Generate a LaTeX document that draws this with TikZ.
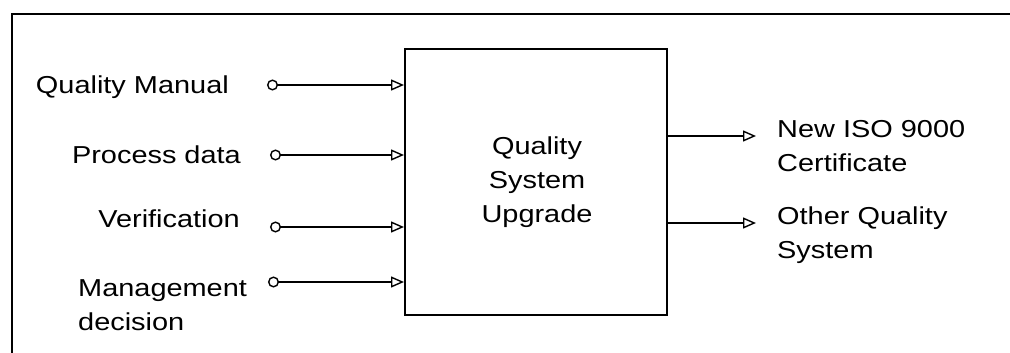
\documentclass[tikz,border=0pt]{standalone}
\usepackage{fontspec}
\setmainfont{Liberation Sans}[FakeStretch=1.18]
\usetikzlibrary{arrows.meta}

\tikzset{
    lbl/.style={inner sep=0pt, font=\fontsize{24.5}{34}\selectfont},
    flow/.style={line width=1.4pt, {Circle[open, length=11pt, width=11pt]}-{Triangle[open, length=13pt, width=11pt]}},
    outflow/.style={line width=1.4pt, -{Triangle[open, length=13pt, width=11pt]}}
}

\begin{document}
\begin{tikzpicture}[x=1pt, y=-1pt]
        \useasboundingbox (0,0) rectangle (1010,353);
        % ==== FRAME ====
        \draw[line width=1.3pt] (1010,14) -- (12,14) -- (12,353);
        % ==== CENTRAL BOX ====
        \node[draw, line width=2pt, minimum width=262pt, minimum height=266pt, inner sep=0pt] (sys) at (536,182) {};
        \node[lbl, align=center] (syslbl) at (537,182) {Quality\\System\\Upgrade};
        % ==== INPUTS ====
        \node[lbl, anchor=east] (manual) at (229,87) {Quality Manual};
        \node[lbl, anchor=east] (procdata) at (241,155) {Process data};
        \node[lbl, anchor=east] (verif) at (240,219) {Verification};
        \node[lbl, anchor=west, align=left] (mgmt) at (78,305) {Management\\decision};
        \coordinate (in1) at (267,85);
        \coordinate (in2) at (270,155);
        \coordinate (in3) at (270,227);
        \coordinate (in4) at (268,282);
        \foreach \i in {1,...,4}
            \draw[flow] (in\i) -- (sys.west |- in\i);
        % ==== OUTPUTS ====
        \node[lbl, anchor=west, align=left] (iso) at (777,146) {New ISO 9000\\Certificate};
        \node[lbl, anchor=west, align=left] (other) at (777,235) {Other Quality\\System};
        \coordinate (out1) at (756,136);
        \coordinate (out2) at (756,223);
        \draw[outflow] (sys.east |- out1) -- (out1);
        \draw[outflow] (sys.east |- out2) -- (out2);
\end{tikzpicture}
\end{document}
